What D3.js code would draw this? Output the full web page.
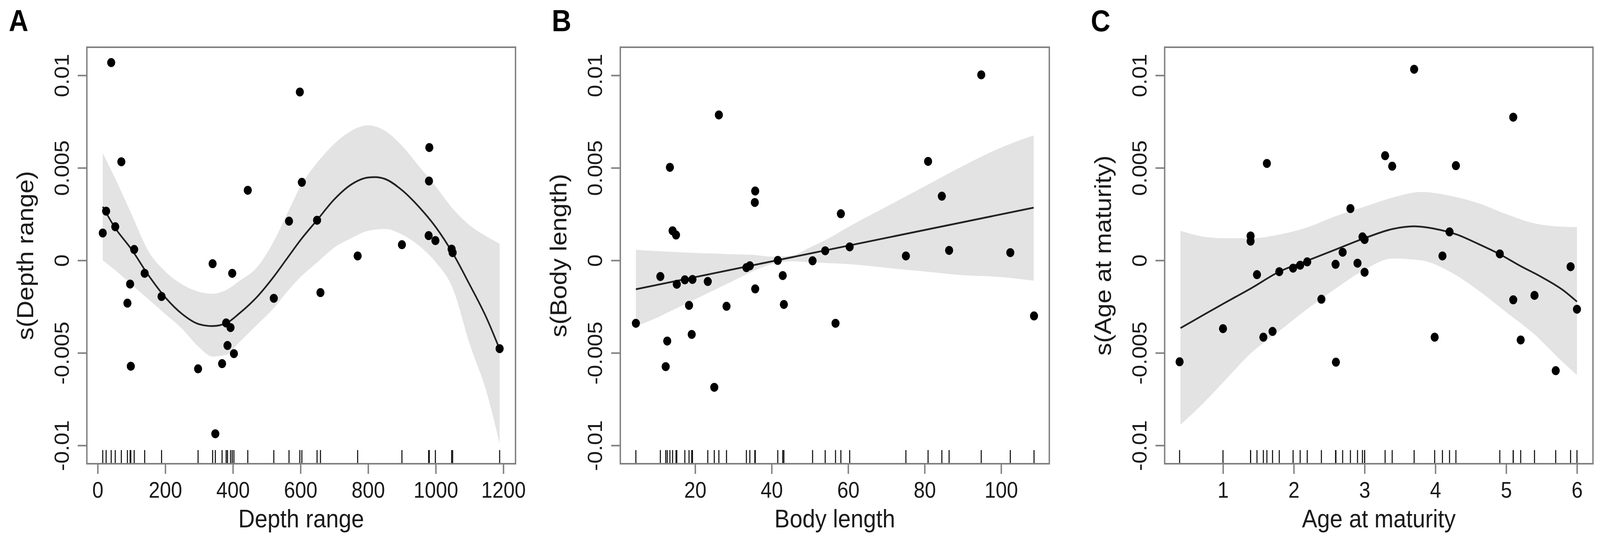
<!DOCTYPE html>
<html>
<head>
<meta charset="utf-8">
<script src="https://cdn.jsdelivr.net/npm/d3@7"></script>
<style>
html, body { margin: 0; padding: 0; background: #fff; overflow: hidden; }
text { font-family: "Liberation Sans", Arial, Helvetica, sans-serif; }
</style>
</head>
<body>
<script>
// ---- shared y axis ----
var yTicks = [-0.01, -0.005, 0, 0.005, 0.01];
var yTickLabels = ["-0.01", "-0.005", "0", "0.005", "0.01"];

// ---- panel A: depth range ----
var depthX = [15, 25, 40, 52, 70, 88, 96, 98, 108, 139, 189, 297, 340, 348, 368, 380, 384, 393, 398, 403,
    444, 521, 566, 598, 604, 649, 659, 769, 900, 979, 980, 981, 999, 1047, 1050, 1189];
var depthY = [0.00148, 0.00266, 0.01069, 0.00182, 0.00533, -0.00231, -0.00128, -0.00572, 0.00059, -0.0007,
    -0.00195, -0.00586, -0.00018, -0.00937, -0.00558, -0.00338, -0.0046, -0.00363, -0.0007, -0.00504,
    0.00379, -0.00205, 0.00212, 0.0091, 0.00422, 0.00217, -0.00174, 0.00024, 0.00085, 0.00134,
    0.00429, 0.0061, 0.00107, 0.00061, 0.00042, -0.00477];
var depthFitX = [15, 50, 100, 150, 200, 250, 300, 340, 380, 420, 470, 520, 560, 600, 650, 700, 750, 800,
    820, 850, 900, 950, 1000, 1050, 1100, 1150, 1189];
var depthFit = [0.0029, 0.0018, 0.0006, -0.0008, -0.0020, -0.0029, -0.00345, -0.00355, -0.0034, -0.00285,
    -0.0020, -0.0009, 0.0001, 0.0011, 0.0022, 0.0033, 0.0041, 0.00448, 0.0045, 0.0044, 0.0038, 0.0029,
    0.0018, 0.0004, -0.0013, -0.0031, -0.0048];
var depthBandX = [15, 50, 100, 150, 200, 250, 300, 340, 380, 420, 470, 520, 560, 600, 650, 700, 750, 800,
    850, 900, 950, 1000, 1050, 1100, 1150, 1189];
var depthLower = [0.0000, -0.0005, -0.0013, -0.0021, -0.0029, -0.0037, -0.0047, -0.0052, -0.0051, -0.0044,
    -0.0035, -0.0026, -0.0017, -0.0009, -0.0001, 0.0007, 0.0012, 0.0016, 0.0017, 0.0014, 0.0008, -0.0001,
    -0.0015, -0.0045, -0.0071, -0.0099];
var depthUpper = [0.0058, 0.0045, 0.0025, 0.0005, -0.0006, -0.0013, -0.0017, -0.0018, -0.0016, -0.0011,
    -0.0004, 0.0010, 0.0025, 0.0040, 0.0053, 0.0063, 0.0070, 0.0073, 0.0070, 0.0062, 0.0051, 0.0040,
    0.0028, 0.0019, 0.0013, 0.0009];
var depthTicks = [0, 200, 400, 600, 800, 1000, 1200];

// ---- panel B: body length ----
var bodyX = [4.5, 10.9, 12.3, 12.7, 13.4, 14.1, 15.0, 15.2, 17.3, 18.4, 19.1, 19.3, 23.3, 25.0, 26.2, 28.2,
    33.4, 34.3, 35.6, 35.7, 35.7, 41.6, 42.9, 43.2, 50.7, 54.0, 56.7, 58.1, 60.4, 75.1, 80.9, 84.5, 86.4,
    94.8, 102.4, 108.6];
var bodyY = [-0.0034, -0.00087, -0.00574, -0.00436, 0.00503, 0.0016, 0.00137, -0.00129, -0.00105, -0.00243,
    -0.004, -0.00103, -0.00114, -0.00686, 0.00786, -0.00248, -0.00039, -0.00029, 0.00313, 0.00375,
    -0.00154, 0, -0.00082, -0.00238, -0.00002, 0.00052, -0.0034, 0.00252, 0.00073, 0.00024, 0.00535,
    0.00347, 0.00054, 0.01003, 0.00042, -0.003];
var bodyFitX = [4.5, 108.5];
var bodyFit = [-0.00156, 0.00285];
var bodyBandX = [4.5, 10, 15, 20, 25, 30, 35, 40, 45, 50, 55, 60, 70, 80, 90, 100, 108.5];
var bodyLower = [-0.00356, -0.0031, -0.0026, -0.0021, -0.0016, -0.0011, -0.0006, -0.0002, -0.00005, -0.0001,
    -0.00015, -0.0002, -0.0004, -0.0006, -0.0008, -0.0009, -0.0011];
var bodyUpper = [0.00057, 0.0005, 0.00045, 0.0004, 0.00037, 0.00033, 0.0003, 0.0002, 0.00025, 0.0007,
    0.0012, 0.0018, 0.0029, 0.0040, 0.0051, 0.0061, 0.00675];
var bodyTicks = [20, 40, 60, 80, 100];

// ---- panel C: age at maturity ----
var ageX = [0.387, 1.0, 1.39, 1.39, 1.48, 1.57, 1.62, 1.70, 1.795, 1.99, 2.09, 2.19, 2.39, 2.59, 2.595, 2.69,
    2.80, 2.90, 2.97, 3.0, 3.0, 3.29, 3.39, 3.70, 3.99, 4.10, 4.20, 4.29, 4.91, 5.10, 5.10, 5.205, 5.40,
    5.70, 5.91, 6.0];
var ageY = [-0.00548, -0.00369, 0.00132, 0.00104, -0.00077, -0.00415, 0.00524, -0.00384, -0.00061, -0.00042,
    -0.00026, -0.00008, -0.0021, -0.00021, -0.0055, 0.00044, 0.0028, -0.00015, 0.00127, 0.00113, -0.00064,
    0.00566, 0.00509, 0.01033, -0.00415, 0.00024, 0.00154, 0.00512, 0.00035, -0.00213, 0.00774, -0.0043,
    -0.00189, -0.00596, -0.00034, -0.00264];
var ageFitX = [0.4, 0.7, 1.0, 1.4, 1.8, 2.2, 2.6, 3.0, 3.4, 3.7, 4.0, 4.3, 4.6, 4.9, 5.2, 5.5, 5.8, 6.0];
var ageFit = [-0.00366, -0.0030, -0.00235, -0.0015, -0.0006, 0.0000, 0.0006, 0.0012, 0.0017, 0.00184,
    0.0017, 0.0014, 0.0009, 0.00035, -0.0003, -0.0009, -0.0016, -0.00223];
var ageBandX = [0.4, 0.7, 1.0, 1.4, 1.8, 2.2, 2.6, 3.0, 3.4, 3.8, 4.2, 4.6, 5.0, 5.4, 5.8, 6.0];
var ageLower = [-0.00888, -0.0078, -0.0066, -0.0050, -0.0038, -0.0026, -0.0015, -0.0005, 0.0001, 0.0000,
    -0.0006, -0.0016, -0.0028, -0.0040, -0.0055, -0.0062];
var ageUpper = [0.0016, 0.0013, 0.0012, 0.0012, 0.0014, 0.0018, 0.0024, 0.0029, 0.0034, 0.0037, 0.0035,
    0.0031, 0.0025, 0.0020, 0.00182, 0.0018];
var ageTicks = [1, 2, 3, 4, 5, 6];

// ---- layout ----
var w = 4550;
var h = 1409;
var boxTop = 121;
var boxBottom = 1188;
var tickFont = 57;
var titleFont = 65;
var tickLen = 26;
var rugLen = 35;
var boxColor = "#808080";
var textColor = "#1a1a1a";

var panels = [
    {letter: "A", letterX: 25, left: 247, right: 1466, xDomain: [-32, 1236], ticks: depthTicks,
     xTitle: "Depth range", yTitle: "s(Depth range)",
     px: depthX, py: depthY, fitX: depthFitX, fit: depthFit, bandX: depthBandX, lower: depthLower, upper: depthUpper},
    {letter: "B", letterX: 1569, left: 1764, right: 2984, xDomain: [0.43, 112.6], ticks: bodyTicks,
     xTitle: "Body length", yTitle: "s(Body length)",
     px: bodyX, py: bodyY, fitX: bodyFitX, fit: bodyFit, bandX: bodyBandX, lower: bodyLower, upper: bodyUpper},
    {letter: "C", letterX: 3102, left: 3312, right: 4530, xDomain: [0.176, 6.226], ticks: ageTicks,
     xTitle: "Age at maturity", yTitle: "s(Age at maturity)",
     px: ageX, py: ageY, fitX: ageFitX, fit: ageFit, bandX: ageBandX, lower: ageLower, upper: ageUpper}
];

// stretch the 4550x1409 drawing over the whole viewport
var svg = d3.select("body")
    .append("svg")
    .attr("viewBox", `0 0 ${w} ${h}`)
    .attr("preserveAspectRatio", "none")
    .style("width", "100vw")
    .style("height", "100vh")
    .style("display", "block");

svg.append("rect").attr("width", w).attr("height", h).attr("fill", "#fff");

var yScale = d3.scaleLinear()
    .domain([-0.01099, 0.01152])
    .range([boxBottom, boxTop]);

panels.forEach(p => {
    var xScale = d3.scaleLinear().domain(p.xDomain).range([p.left, p.right]);
    var g = svg.append("g");

    // confidence band
    var band = d3.area()
        .x(d => xScale(d[0]))
        .y0(d => yScale(d[1]))
        .y1(d => yScale(d[2]))
        .curve(d3.curveMonotoneX);
    g.append("path")
        .datum(d3.zip(p.bandX, p.lower, p.upper))
        .attr("d", band)
        .attr("fill", "#e3e3e3");

    // smooth
    var line = d3.line()
        .x(d => xScale(d[0]))
        .y(d => yScale(d[1]))
        .curve(d3.curveMonotoneX);
    g.append("path")
        .datum(d3.zip(p.fitX, p.fit))
        .attr("d", line)
        .attr("fill", "none")
        .attr("stroke", "#222")
        .attr("stroke-width", 4.5);

    // rug
    g.selectAll(".rug")
        .data(p.px)
        .enter()
        .append("line")
        .attr("class", "rug")
        .attr("x1", d => xScale(d))
        .attr("x2", d => xScale(d))
        .attr("y1", boxBottom)
        .attr("y2", boxBottom - rugLen)
        .attr("stroke", "#111")
        .attr("stroke-width", 3);

    // partial residuals
    g.selectAll("circle")
        .data(d3.zip(p.px, p.py))
        .enter()
        .append("circle")
        .attr("cx", d => xScale(d[0]))
        .attr("cy", d => yScale(d[1]))
        .attr("r", 11.5)
        .attr("fill", "#000");

    // box
    g.append("rect")
        .attr("x", p.left)
        .attr("y", boxTop)
        .attr("width", p.right - p.left)
        .attr("height", boxBottom - boxTop)
        .attr("fill", "none")
        .attr("stroke", boxColor)
        .attr("stroke-width", 4);

    // x axis
    var xAxis = d3.axisBottom(xScale)
        .tickValues(p.ticks)
        .tickSize(tickLen)
        .tickPadding(21)
        .tickFormat(d3.format("d"));
    var gx = g.append("g")
        .attr("transform", `translate(0,${boxBottom})`)
        .call(xAxis);
    gx.select(".domain").remove();
    gx.selectAll("line").attr("stroke", boxColor).attr("stroke-width", 4);
    gx.selectAll("text").attr("fill", textColor).style("font-size", tickFont + "px");

    // y axis, labels parallel to axis like R
    var yAxis = d3.axisLeft(yScale)
        .tickValues(yTicks)
        .tickSize(tickLen)
        .tickFormat((d, i) => yTickLabels[i]);
    var gy = g.append("g")
        .attr("transform", `translate(${p.left},0)`)
        .call(yAxis);
    gy.select(".domain").remove();
    gy.selectAll("line").attr("stroke", boxColor).attr("stroke-width", 4);
    gy.selectAll("text")
        .attr("x", null)
        .attr("dy", null)
        .attr("text-anchor", "middle")
        .attr("transform", "translate(-52,0) rotate(-90)")
        .attr("fill", textColor)
        .style("font-size", tickFont + "px");

    // titles
    g.append("text")
        .attr("x", (p.left + p.right) / 2)
        .attr("y", 1351)
        .attr("text-anchor", "middle")
        .attr("fill", textColor)
        .style("font-size", titleFont + "px")
        .text(p.xTitle);

    g.append("text")
        .attr("transform", `translate(${p.left - 153},${(boxTop + boxBottom) / 2}) rotate(-90)`)
        .attr("text-anchor", "middle")
        .attr("fill", textColor)
        .style("font-size", titleFont + "px")
        .text(p.yTitle);

    g.append("text")
        .attr("x", p.letterX)
        .attr("y", 80)
        .attr("fill", "#000")
        .style("font-size", "77px")
        .style("font-weight", "bold")
        .text(p.letter);
});
</script>
</body>
</html>
